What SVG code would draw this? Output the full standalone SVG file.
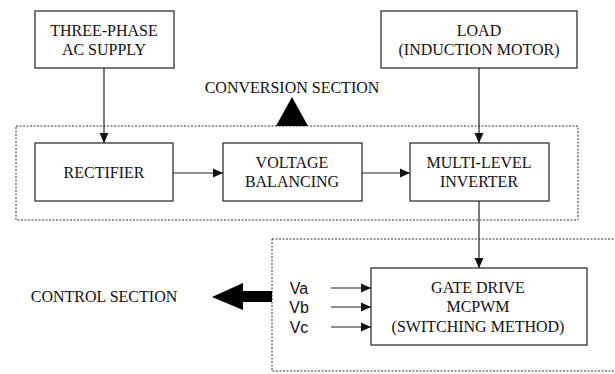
<svg xmlns="http://www.w3.org/2000/svg" width="615" height="374" viewBox="0 0 615 374">
<style>
.box{fill:#fff;stroke:#222;stroke-width:1.2}
.dash{fill:none;stroke:#333;stroke-width:1;stroke-dasharray:2,1.5}
.t{font-family:"Liberation Serif","Times New Roman",serif;font-size:16px;fill:#111;text-anchor:middle}
.s{font-family:"Liberation Sans",Arial,sans-serif;font-size:16px;fill:#111;text-anchor:middle}
.ln{stroke:#222;stroke-width:1.2;fill:none}
</style>
<defs>
<marker id="ah" markerUnits="userSpaceOnUse" markerWidth="11" markerHeight="10" refX="10" refY="5" orient="auto">
<path d="M0,0.5 L10,5 L0,9.5 Z" fill="#111"/>
</marker>
</defs>
<rect width="615" height="374" fill="#fff"/>
<g id="conversion-section">
<rect class="dash" x="16" y="126" width="562" height="94"/>
<text class="t" x="292" y="93">CONVERSION SECTION</text>
<polygon points="292,97 276,126 308,126" fill="#000"/>
</g>
<g id="control-section">
<rect class="dash" x="272" y="239" width="350" height="132"/>
<text class="t" x="104" y="302">CONTROL SECTION</text>
<polygon points="212,297 243,283 243,291 272,291 272,302 243,302 243,310" fill="#000"/>
</g>
<g id="supply">
<rect class="box" x="35" y="11" width="139" height="57"/>
<text class="t" x="104" y="36">THREE-PHASE</text>
<text class="t" x="104" y="55">AC SUPPLY</text>
</g>
<g id="load">
<rect class="box" x="381" y="11" width="196" height="57"/>
<text class="t" x="479" y="36">LOAD</text>
<text class="t" x="479" y="55">(INDUCTION MOTOR)</text>
</g>
<g id="rectifier">
<rect class="box" x="35" y="143" width="138" height="58"/>
<text class="t" x="104" y="178">RECTIFIER</text>
</g>
<g id="voltage-balancing">
<rect class="box" x="223" y="143" width="139" height="58"/>
<text class="t" x="292" y="168">VOLTAGE</text>
<text class="t" x="292" y="187">BALANCING</text>
</g>
<g id="inverter">
<rect class="box" x="410" y="143" width="139" height="58"/>
<text class="t" x="479" y="168">MULTI-LEVEL</text>
<text class="t" x="479" y="187">INVERTER</text>
</g>
<g id="gate-drive">
<rect class="box" x="371" y="268" width="216" height="77"/>
<text class="t" x="478" y="293">GATE DRIVE</text>
<text class="t" x="478" y="312">MCPWM</text>
<text class="t" x="478" y="332">(SWITCHING METHOD)</text>
</g>
<g id="inputs">
<text class="s" x="299" y="294">Va</text>
<text class="s" x="299" y="313">Vb</text>
<text class="s" x="299" y="333">Vc</text>
</g>
<g id="connectors">
<line class="ln" x1="104" y1="68" x2="104" y2="143" marker-end="url(#ah)"/>
<line class="ln" x1="479" y1="68" x2="479" y2="143" marker-end="url(#ah)"/>
<line class="ln" x1="173" y1="173" x2="223" y2="173" marker-end="url(#ah)"/>
<line class="ln" x1="362" y1="173" x2="410" y2="173" marker-end="url(#ah)"/>
<line class="ln" x1="479" y1="201" x2="479" y2="268" marker-end="url(#ah)"/>
<line class="ln" x1="331" y1="288" x2="371" y2="288" marker-end="url(#ah)"/>
<line class="ln" x1="331" y1="307" x2="371" y2="307" marker-end="url(#ah)"/>
<line class="ln" x1="331" y1="327" x2="371" y2="327" marker-end="url(#ah)"/>
</g>
</svg>
